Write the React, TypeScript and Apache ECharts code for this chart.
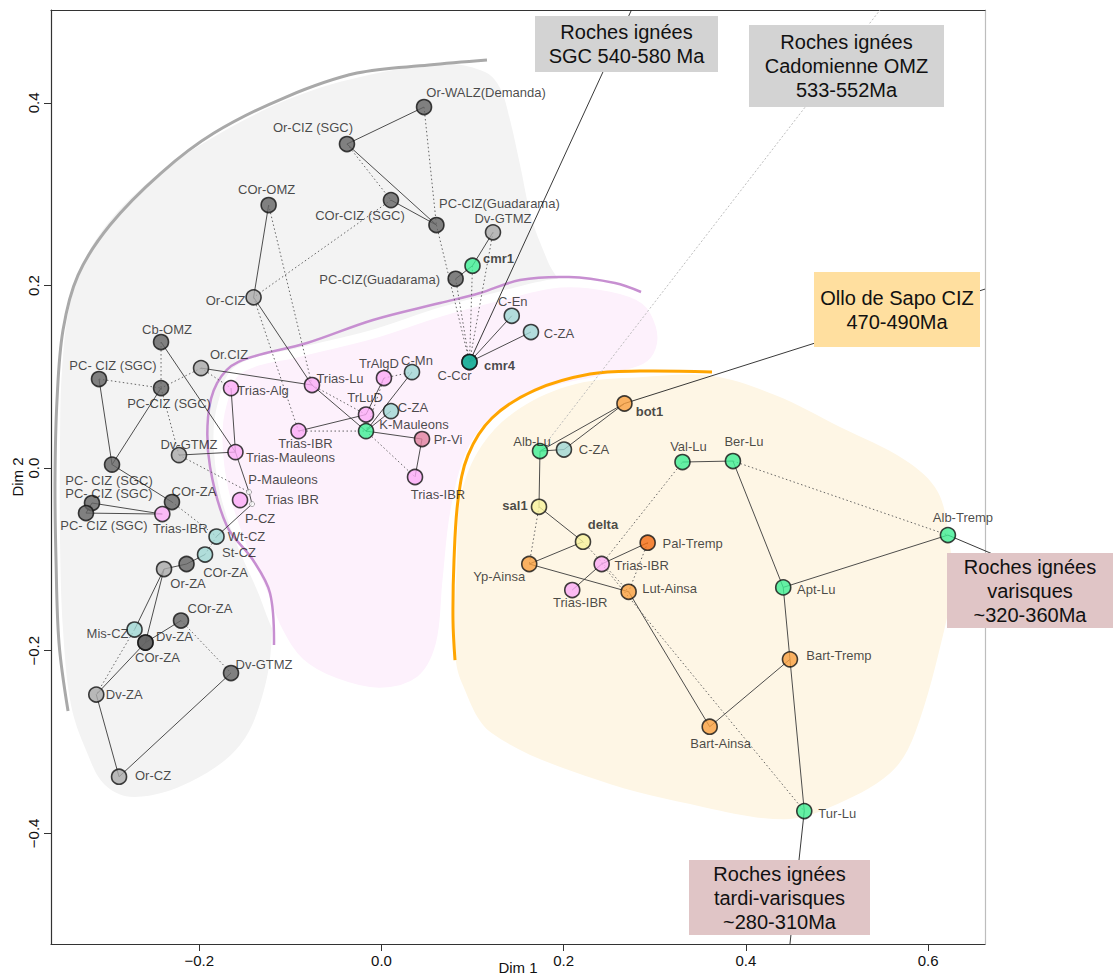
import React, { useEffect, useRef } from "react";
import * as echarts from "echarts";

// ---------- DATA ----------
const sampleNames = [
  "Or-WALZ(Demanda)", "Or-CIZ (SGC)", "COr-OMZ", "COr-CIZ (SGC)", "PC-CIZ(Guadarama)",
  "Dv-GTMZ", "cmr1", "PC-CIZ(Guadarama)", "Or-CIZ", "C-En",
  "C-ZA", "cmr4", "C-Ccr", "Cb-OMZ", "Or.CIZ",
  "PC- CIZ (SGC)", "PC-CIZ (SGC)", "Trias-Alg", "Trias-Lu", "TrAlgD",
  "C-Mn", "TrLuD", "C-ZA", "K-Mauleons", "Trias-IBR",
  "Pr-Vi", "Trias-IBR", "Dv-GTMZ", "Trias-Mauleons", "PC- CIZ (SGC)",
  "COr-ZA", "PC- CIZ (SGC)", "PC- CIZ (SGC)", "Trias-IBR", "Trias IBR",
  "P-Mauleons", "P-CZ", "Wt-CZ", "St-CZ", "COr-ZA",
  "Or-ZA", "COr-ZA", "Mis-CZ", "Dv-ZA", "COr-ZA",
  "Dv-GTMZ", "Dv-ZA", "Or-CZ", "bot1", "Alb-Lu",
  "C-ZA", "Val-Lu", "Ber-Lu", "sal1", "delta",
  "Pal-Tremp", "Yp-Ainsa", "Trias-IBR", "Trias-IBR", "Lut-Ainsa",
  "Alb-Tremp", "Apt-Lu", "Bart-Tremp", "Bart-Ainsa", "Tur-Lu",
];

const dim1 = [
  0.0467, -0.0379, -0.1239, 0.0104, 0.0603,
  0.1224, 0.0999, 0.0814, -0.1404, 0.143,
  0.1641, 0.0966, 0.0966, -0.242, -0.1981,
  -0.3101, -0.242, -0.1652, -0.0763, 0.0027,
  0.0335, -0.017, 0.0104, -0.017, -0.0911,
  0.0445, 0.0368, -0.2223, -0.1603, -0.2958,
  -0.23, -0.3178, -0.3244, -0.2406, -0.1553,
  -0.1454, -0.1421, -0.1811, -0.1937, -0.214,
  -0.2387, -0.2201, -0.2711, -0.2591, -0.2591,
  -0.1652, -0.3131, -0.2881, 0.2667, 0.174,
  0.2003, 0.3304, 0.3858, 0.1729, 0.2212,
  0.2922, 0.1622, 0.2417, 0.2094, 0.2713,
  0.6218, 0.441, 0.4484, 0.3603, 0.4641,
];

const dim2 = [
  0.3955, 0.355, 0.2882, 0.2936, 0.2663,
  0.2583, 0.2217, 0.2074, 0.1871, 0.1669,
  0.1491, 0.1162, 0.1162, 0.1381, 0.1096,
  0.0976, 0.0877, 0.0877, 0.091, 0.0987,
  0.1052, 0.0587, 0.0625, 0.0406, 0.0406,
  0.0319, -0.0097, 0.0143, 0.0176, 0.0039,
  -0.0371, -0.0382, -0.0492, -0.0503, -0.035,
  -0.0262, -0.0393, -0.0749, -0.0946, -0.105,
  -0.1105, -0.1669, -0.1768, -0.191, -0.191,
  -0.2244, -0.248, -0.338, 0.0708, 0.0187,
  0.0204, 0.0067, 0.0078, -0.0423, -0.0806,
  -0.0817, -0.105, -0.105, -0.1335, -0.1354,
  -0.0733, -0.1306, -0.2094, -0.2832, -0.3756,
];

const sampleGroup = [
  "sgc", "sgc", "sgc", "sgc", "sgc",
  "grey", "green", "sgc", "grey", "teal",
  "teal", "green", "ccr", "sgc", "grey",
  "sgc", "sgc", "trias", "trias", "trias",
  "teal", "trias", "teal", "green", "trias",
  "prvi", "trias", "grey", "trias", "sgc",
  "sgc", "sgc", "sgc", "trias", "trias",
  "point", "point", "teal", "teal", "sgc",
  "grey", "sgc", "teal", "sgc", "sgc",
  "sgc", "grey", "grey", "orange", "green",
  "teal", "green", "green", "yellow", "yellow",
  "palTremp", "orange", "trias", "trias", "orange",
  "green", "green", "orange", "orange", "green",
];

const boldSamples = ["cmr1", "cmr4", "bot1", "sal1", "delta"];

const solidLinks = [
  [1, 0], [1, 4], [3, 4], [2, 8], [7, 6], [6, 5], [12, 9], [12, 10], [8, 18],
  [14, 18], [13, 28], [15, 29], [29, 16], [29, 30], [31, 33], [32, 33], [31, 32],
  [17, 28], [27, 28], [28, 35], [35, 36], [36, 37],
  [38, 39], [39, 40], [40, 42], [40, 43], [41, 43], [43, 46], [46, 47], [47, 45],
  [18, 23], [19, 21], [20, 23], [22, 23], [23, 25], [25, 26], [24, 21],
  [48, 49], [48, 50], [49, 50], [49, 53], [53, 54], [56, 54], [57, 55], [57, 58],
  [56, 59], [59, 63], [51, 52], [52, 61], [60, 61], [61, 62], [62, 63], [62, 64],
];

const dottedLinks = [
  [0, 4], [1, 3], [2, 18], [8, 24], [3, 8], [4, 12], [5, 12], [6, 12], [7, 12],
  [13, 16], [15, 16], [14, 16], [14, 17], [16, 27], [27, 35], [30, 37], [37, 38],
  [41, 45], [42, 46],
  [18, 21], [24, 23], [19, 20], [19, 23], [23, 26],
  [53, 56], [54, 59], [57, 51], [55, 59], [57, 64], [52, 60],
];

// lines leading to the age boxes: from sample index to an end point
const rayFrom = [12, 49, 48, 60, 64];
const rayEndDim1 = [0.2744, 0.5472, 0.6625, 0.6734, 0.4484];
const rayEndDim2 = [0.5018, 0.5018, 0.1961, -0.0951, -0.5212];
const rayDotted = [false, true, false, false, false];

// envelopes (data units)
const greyZone = [
  [0.0708, 0.4426], [0.1136, 0.4338], [0.1301, 0.4163], [0.1411, 0.3813], [0.1521, 0.332],
  [0.1652, 0.2717], [0.1828, 0.2257], [0.1959, 0.1929], [0.1301, 0.1513], [0.0203, 0.1239],
  [-0.0895, 0.0965], [-0.1169, 0.0198], [-0.1246, -0.1006], [-0.1202, -0.1773], [-0.129, -0.243],
  [-0.1553, -0.3033], [-0.2102, -0.3438], [-0.2706, -0.3603], [-0.3035, -0.3471], [-0.3244, -0.3088],
  [-0.3408, -0.2595], [-0.3496, -0.1773], [-0.3529, -0.0787], [-0.3529, 0.0199], [-0.3507, 0.1074],
  [-0.3408, 0.184], [-0.3145, 0.2487], [-0.2585, 0.3111], [-0.1916, 0.3582], [-0.107, 0.402],
  [-0.0236, 0.4284],
];

const pinkZone = [
  [-0.1575, 0.1075], [-0.0895, 0.1271], [-0.0126, 0.1458], [0.0642, 0.1709], [0.1301, 0.1885],
  [0.1959, 0.2027], [0.2508, 0.1983], [0.2892, 0.1841], [0.3057, 0.1567], [0.3057, 0.1294],
  [0.2892, 0.1096], [0.2398, 0.0965], [0.1795, 0.0823], [0.1301, 0.0582], [0.0993, 0.0198],
  [0.0807, -0.0461], [0.0719, -0.1227], [0.0642, -0.194], [0.0423, -0.2323], [-0.0016, -0.2454],
  [-0.0511, -0.2345], [-0.0895, -0.2126], [-0.1136, -0.1775], [-0.1312, -0.1337], [-0.1553, -0.079],
  [-0.1729, -0.0242], [-0.1795, 0.0305], [-0.1751, 0.0691],
];

const orangeZone = [
  [0.3628, 0.1009], [0.4319, 0.08], [0.5033, 0.045], [0.5746, 0.0089], [0.6109, -0.0264],
  [0.624, -0.0844], [0.6262, -0.1227], [0.6185, -0.1742], [0.5856, -0.2903], [0.5582, -0.3341],
  [0.4923, -0.3713], [0.4418, -0.3845], [0.354, -0.3713], [0.2376, -0.3417], [0.1213, -0.2903],
  [0.0884, -0.2355], [0.0807, -0.1994], [0.0829, -0.1008], [0.0873, -0.0297], [0.1103, 0.0251],
  [0.152, 0.0656], [0.2124, 0.0919], [0.2838, 0.0995],
];

const greyArc = [
  [0.1158, 0.447], [0.0521, 0.4415], [-0.0269, 0.4327], [-0.1048, 0.4065], [-0.1839, 0.367],
  [-0.242, 0.3232], [-0.298, 0.2663], [-0.3331, 0.2115], [-0.3496, 0.1513], [-0.3562, 0.0746],
  [-0.3584, -0.013], [-0.3573, -0.1006], [-0.354, -0.1916], [-0.3441, -0.266],
];

const purpleArc = [
  [0.2849, 0.1929], [0.2563, 0.2027], [0.2058, 0.2093], [0.152, 0.206], [0.1081, 0.1918],
  [0.0642, 0.1808], [-0.0093, 0.1622], [-0.0818, 0.137], [-0.1575, 0.1162], [-0.1805, 0.0932],
  [-0.1904, 0.056], [-0.1882, 0.0012], [-0.1696, -0.0636], [-0.1411, -0.1006], [-0.1224, -0.1368],
  [-0.118, -0.1937],
];

const orangeArc = [
  [0.3628, 0.1053], [0.2838, 0.1063], [0.2289, 0.1031], [0.1685, 0.0855], [0.1213, 0.0549],
  [0.095, 0.0143], [0.084, -0.0351], [0.0796, -0.1008], [0.0785, -0.1665], [0.0807, -0.2103],
];

const xTicks = [-0.2, 0, 0.2, 0.4, 0.6];
const yTicks = [-0.4, -0.2, 0, 0.2, 0.4];

const boxTexts = [
  "Roches ignées\nSGC 540-580 Ma",
  "Roches ignées\nCadomienne OMZ\n533-552Ma",
  "Ollo de Sapo CIZ\n470-490Ma",
  "Roches ignées\nvarisques\n~320-360Ma",
  "Roches ignées\ntardi-varisques\n~280-310Ma",
];

// ---------- LAYOUT / STYLE ----------
const labelOffsets = [
  [62, -15], [-34, -17], [-2, -16], [-31, 15], [63, -22],
  [10, -14], [26, -7], [-76, 1], [-28, 3], [1, -14],
  [28, 1], [30, 3], [-15, 13], [6, -13], [28, -14],
  [14, -14], [8, 15], [32, 2], [28, -7], [-5, -15],
  [5, -12], [-1, -17], [22, -4], [48, -7], [7, 12],
  [26, 0], [23, 17], [10, -11], [55, 5], [-3, 16],
  [22, -11], [17, -10], [18, 12], [18, 14], [52, -1],
  [34, -13], [8, 14], [30, 0], [34, -2], [39, 8],
  [24, 14], [29, -12], [-27, 4], [29, -6], [12, 15],
  [33, -9], [28, 0], [34, -1], [25, 8], [-8, -10],
  [30, 0], [6, -16], [11, -20], [-24, -1], [20, -17],
  [45, 1], [-30, 12], [40, 1], [8, 12], [41, -3],
  [15, -18], [33, 2], [49, -4], [11, 17], [33, 2],
];

const GROUP_COLOR: Record<string, string> = {
  sgc: "#636363",
  grey: "#a9a9a9",
  teal: "#9fd7d3",
  trias: "#fbabf6",
  green: "#3def93",
  ccr: "#17a39b",
  prvi: "#e0819d",
  orange: "#f9a040",
  palTremp: "#f26a10",
  yellow: "#f8f29c",
  point: "#ffffff",
};

// pixel layout of the annotation boxes [x, y, w, h, fill]
const boxLayout: [number, number, number, number, string][] = [
  [535, 16, 183, 56, "#d3d3d3"],
  [749, 25, 195, 82, "#d3d3d3"],
  [814, 272, 166, 75, "#ffdf9f"],
  [947, 553, 166, 75, "#e0c5c6"],
  [689, 860, 181, 75, "#e0c5c6"],
];

const FONT = "'Liberation Sans', Arial, Helvetica, sans-serif";
const fmt = (v: number) => (v < 0 ? "\u2212" : "") + Math.abs(v).toFixed(1);

export default function App() {
  const ref = useRef<HTMLDivElement>(null);

  useEffect(() => {
    if (!ref.current) return;
    const chart = echarts.init(ref.current, null, { renderer: "svg" });

    const zones = [
      { pts: greyZone, fill: "#f3f3f3", stroke: "none", lw: 0 },
      { pts: pinkZone, fill: "#fdf1fc", stroke: "#ffffff", lw: 9 },
      { pts: orangeZone, fill: "#fef6e5", stroke: "none", lw: 0 },
    ];
    const arcs = [
      { pts: greyArc, color: "#a9a9a9", lw: 3 },
      { pts: purpleArc, color: "#c78fd1", lw: 2.5 },
      { pts: orangeArc, color: "#ffa500", lw: 3 },
    ];

    const linkData = (links: number[][]) =>
      links.map(([a, b]) => [dim1[a], dim2[a], dim1[b], dim2[b]]);

    const lineRender = (style: any) => (params: any, api: any) => {
      const p1 = api.coord([api.value(0), api.value(1)]);
      const p2 = api.coord([api.value(2), api.value(3)]);
      return {
        type: "line",
        shape: { x1: p1[0], y1: p1[1], x2: p2[0], y2: p2[1] },
        style,
      };
    };

    const rayData = rayFrom.map((s, i) => [dim1[s], dim2[s], rayEndDim1[i], rayEndDim2[i], rayDotted[i] ? 1 : 0]);

    const scatterData = sampleNames.map((n, i) => {
      const g = sampleGroup[i];
      const isPoint = g === "point";
      return {
        name: n,
        value: [dim1[i], dim2[i]],
        symbolSize: isPoint ? 5 : 15,
        itemStyle: {
          color: GROUP_COLOR[g],
          borderColor: isPoint ? "#777" : "#111",
          borderWidth: isPoint ? 0.8 : 1.6,
        },
        label: {
          show: true,
          position: "inside",
          offset: labelOffsets[i],
          formatter: n,
          fontWeight: boldSamples.includes(n) ? "bold" : "normal",
        },
      };
    });

    const graphics: any[] = [];
    boxLayout.forEach(([x, y, w, h, fill], i) => {
      graphics.push({
        type: "rect",
        z: 100,
        shape: { x, y, width: w, height: h },
        style: { fill },
      });
      graphics.push({
        type: "text",
        z: 101,
        x: x + w / 2,
        y: y + h / 2,
        style: {
          text: boxTexts[i],
          fontSize: 20,
          fontFamily: FONT,
          fill: "#111",
          align: "center",
          verticalAlign: "middle",
          lineHeight: 24,
        },
      });
    });

    const axisCommonX = {
      type: "value",
      min: -0.3628,
      max: 0.6625,
      splitLine: { show: false },
    };
    const axisCommonY = {
      type: "value",
      min: -0.5212,
      max: 0.5018,
      splitLine: { show: false },
    };

    chart.setOption({
      animation: false,
      textStyle: { fontFamily: FONT },
      grid: {
        left: 51,
        top: 10,
        right: 128,
        bottom: 33,
        containLabel: false,
        outerBoundsMode: "none",
      },
      xAxis: [
        {
          ...axisCommonX,
          position: "bottom",
          axisLine: { show: true, onZero: false, lineStyle: { color: "#333", width: 1.2 } },
          axisTick: { show: true, length: 7, customValues: xTicks, lineStyle: { color: "#333" } },
          axisLabel: {
            customValues: xTicks,
            formatter: fmt,
            fontSize: 15,
            color: "#111",
            margin: 9,
            fontFamily: FONT,
          },
          name: "Dim 1",
          nameLocation: "middle",
          nameGap: 16,
          nameMoveOverlap: false,
          nameTextStyle: { fontSize: 15, color: "#111", fontFamily: FONT },
        },
        {
          ...axisCommonX,
          position: "top",
          axisLine: { show: true, onZero: false, lineStyle: { color: "#333", width: 1.2 } },
          axisTick: { show: false },
          axisLabel: { show: false },
        },
      ],
      yAxis: [
        {
          ...axisCommonY,
          position: "left",
          axisLine: { show: true, onZero: false, lineStyle: { color: "#333", width: 1.2 } },
          axisTick: { show: true, length: 7, customValues: yTicks, lineStyle: { color: "#333" } },
          axisLabel: {
            customValues: yTicks,
            formatter: fmt,
            fontSize: 15,
            color: "#111",
            margin: 10,
            rotate: 90,
            fontFamily: FONT,
          },
          name: "Dim 2",
          nameLocation: "middle",
          nameGap: 26,
          nameMoveOverlap: false,
          nameTextStyle: { fontSize: 15, color: "#111", fontFamily: FONT },
        },
        {
          ...axisCommonY,
          position: "right",
          axisLine: { show: true, onZero: false, lineStyle: { color: "#bdbdbd", width: 1.2 } },
          axisTick: { show: false },
          axisLabel: { show: false },
        },
      ],
      series: [
        {
          type: "custom",
          name: "zones",
          z: 1,
          silent: true,
          clip: false,
          data: zones.map(() => [0, 0]),
          renderItem: (params: any, api: any) => {
            const z = zones[params.dataIndex];
            return {
              type: "polygon",
              shape: { points: z.pts.map((p) => api.coord(p)), smooth: 0.35 },
              style: { fill: z.fill, stroke: z.stroke, lineWidth: z.lw },
            };
          },
        },
        {
          type: "custom",
          name: "arcs",
          z: 2,
          silent: true,
          clip: false,
          data: arcs.map(() => [0, 0]),
          renderItem: (params: any, api: any) => {
            const a = arcs[params.dataIndex];
            return {
              type: "polyline",
              shape: { points: a.pts.map((p) => api.coord(p)), smooth: 0.35 },
              style: { fill: "none", stroke: a.color, lineWidth: a.lw },
            };
          },
        },
        {
          type: "custom",
          name: "solid",
          z: 3,
          silent: true,
          clip: false,
          data: linkData(solidLinks),
          renderItem: lineRender({ stroke: "#3a3a3a", lineWidth: 0.9 }),
        },
        {
          type: "custom",
          name: "dotted",
          z: 3,
          silent: true,
          clip: false,
          data: linkData(dottedLinks),
          renderItem: lineRender({ stroke: "#555", lineWidth: 0.9, lineDash: [1.5, 2.5] }),
        },
        {
          type: "custom",
          name: "rays",
          z: 3,
          silent: true,
          clip: false,
          data: rayData,
          renderItem: (params: any, api: any) => {
            const p1 = api.coord([api.value(0), api.value(1)]);
            const p2 = api.coord([api.value(2), api.value(3)]);
            const dotted = api.value(4) === 1;
            return {
              type: "line",
              shape: { x1: p1[0], y1: p1[1], x2: p2[0], y2: p2[1] },
              style: dotted
                ? { stroke: "#b5b5b5", lineWidth: 0.9, lineDash: [2, 2] }
                : { stroke: "#222", lineWidth: 0.9 },
            };
          },
        },
        {
          type: "scatter",
          name: "samples",
          z: 5,
          symbol: "circle",
          data: scatterData,
          label: {
            fontSize: 13,
            color: "#1a1a1a",
            fontFamily: FONT,
            align: "center",
            verticalAlign: "middle",
          },
          emphasis: { disabled: true },
        },
      ],
      graphic: graphics,
    });

    return () => chart.dispose();
  }, []);

  return (
    <div
      ref={ref}
      style={{ position: "absolute", left: 0, top: 0, width: 1113, height: 977, background: "#fff" }}
    />
  );
}
